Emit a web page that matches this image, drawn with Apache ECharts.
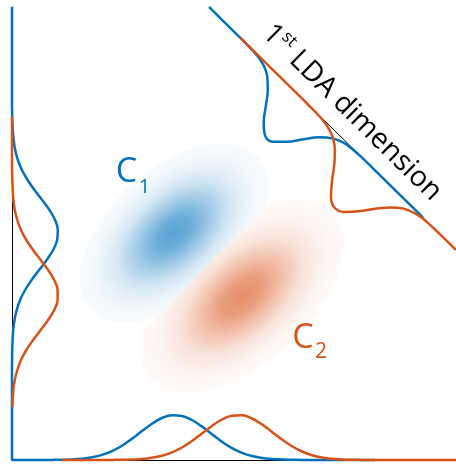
<!DOCTYPE html>
<html>
<head>
<meta charset="utf-8">
<script src="https://cdn.jsdelivr.net/npm/echarts@6/dist/echarts.min.js"></script>
<style>
  html, body { margin: 0; padding: 0; background: #fff; }
  #chart { width: 456px; height: 464px; }
</style>
</head>
<body>
<div id="chart"></div>
<script>
// Class colours
const BLUE = '#0072BD';
const ORANGE = '#D95319';

// Class means in the feature plane (x, y)
const blobX = [162, 230];
const blobY = [227, 164];

// Marginal density of each class along the horizontal feature
const bottomBlueX = [0, 10, 20, 30, 40, 50, 60, 70, 80, 90, 100, 110, 120, 130, 140, 150, 160, 170, 180, 190, 200, 210, 220, 230, 240, 250, 260, 270, 280, 290, 300, 310, 320, 330, 340, 350, 360, 363];
const bottomBlueH = [0, 0, 0, 0, 0.1, 0.25, 0.6, 1.3, 2.7, 5.1, 8.9, 14.3, 21.2, 28.9, 36.3, 42.0, 44.8, 44.1, 40.0, 33.4, 25.7, 18.3, 11.9, 7.2, 4.0, 2.0, 1.0, 0.4, 0.2, 0.1, 0, 0, 0, 0, 0, 0, 0, 0];
const bottomOrangeX = [50, 60, 70, 80, 90, 100, 110, 120, 130, 140, 150, 160, 170, 180, 190, 200, 210, 220, 230, 240, 250, 260, 270, 280, 290, 300, 310, 320, 330, 340, 350, 360, 370, 380, 390, 400, 410, 420, 430, 440, 444];
const bottomOrangeH = [0, 0, 0, 0, 0, 0.1, 0.2, 0.5, 1.0, 2.2, 4.3, 7.6, 12.5, 19.0, 26.5, 34.1, 40.5, 44.3, 44.7, 41.5, 35.6, 28.1, 20.4, 13.7, 8.5, 4.8, 2.5, 1.2, 0.5, 0.2, 0.1, 0, 0, 0, 0, 0, 0, 0, 0, 0, 0];

// Marginal density of each class along the vertical feature
const leftBlueY = [0, 10, 20, 30, 40, 50, 60, 70, 80, 90, 100, 110, 120, 130, 140, 150, 160, 170, 180, 190, 200, 210, 220, 230, 240, 250, 260, 270, 280, 290, 300, 310, 320, 330, 340, 350, 360, 370, 380, 390, 400, 410, 420, 430, 440, 450, 453];
const leftBlueH = [0, 0, 0, 0, 0, 0, 0, 0, 0, 0, 0.1, 0.2, 0.6, 1.2, 2.5, 4.7, 8.1, 13.1, 19.6, 27.1, 34.7, 41.1, 45.1, 45.8, 43.1, 37.5, 30.2, 22.5, 15.6, 9.9, 5.9, 3.2, 1.6, 0.8, 0.3, 0.1, 0, 0, 0, 0, 0, 0, 0, 0, 0, 0, 0];
const leftOrangeY = [53, 60, 70, 80, 90, 100, 110, 120, 130, 140, 150, 160, 170, 180, 190, 200, 210, 220, 230, 240, 250, 260, 270, 280, 290, 300, 310, 320, 330, 343];
const leftOrangeH = [0.4, 0.7, 1.4, 2.8, 5.3, 9.0, 14.3, 21.1, 28.7, 36.1, 42.2, 45.6, 45.6, 42.2, 36.1, 28.7, 21.1, 14.3, 9.0, 5.3, 2.8, 1.4, 0.7, 0.3, 0.1, 0, 0, 0, 0, 0];

// Density of each class projected on the 1st LDA dimension (position along the axis, height)
const ldaBlueS = [0, 10, 20, 30, 40, 50, 60, 70, 80, 90, 100, 110, 120, 130, 140, 150, 160, 170, 180, 190, 200, 210, 220, 230, 240, 250, 260, 270, 280, 290, 300];
const ldaBlueH = [0, 0, 0, 0, 0, 0, 0.3, 1.1, 3.4, 8.5, 17.8, 30.8, 44.0, 52.2, 51.2, 41.6, 28.0, 15.6, 7.2, 2.7, 0.9, 0.2, 0, 0, 0, 0, 0, 0, 0, 0, 0];
const ldaOrangeS = [44, 50, 60, 70, 80, 90, 100, 110, 120, 130, 140, 150, 160, 170, 180, 190, 200, 210, 220, 230, 240, 250, 260, 270, 280, 290, 300, 310, 320, 330, 340, 346];
const ldaOrangeH = [0, 0, 0, 0, 0, 0, 0, 0, 0, 0, 0.1, 0.2, 0.8, 2.5, 6.3, 13.6, 24.7, 38.1, 49.7, 55.0, 51.4, 40.7, 27.3, 15.5, 7.4, 3.0, 1.0, 0.3, 0.1, 0, 0, 0];

// Geometry of the LDA axis (data coordinates)
const ldaStart = [197, 453];
const ldaEnd = [444, 210];

// Shape of the class clouds (spread along major / minor axis, tilt)
const BLOB_SPREAD = [[44, 25], [48, 26]];
const BLOB_TILT = 42 * Math.PI / 180;
const BLOB_RGB = ['0,114,189', '217,83,25'];

function ldaFrame() {
  const dx = ldaEnd[0] - ldaStart[0], dy = ldaEnd[1] - ldaStart[1];
  const L = Math.hypot(dx, dy);
  return { ux: dx / L, uy: dy / L };
}

// Map (position, height) pairs on the LDA axis into the plane
function ldaPoints(sArr, hArr) {
  const f = ldaFrame();
  const nx = f.uy, ny = -f.ux; // normal pointing towards the class clouds
  return sArr.map((s, i) => [ldaStart[0] + s * f.ux + hArr[i] * nx,
                             ldaStart[1] + s * f.uy + hArr[i] * ny]);
}

function pairs(a, b) { return a.map((v, i) => [v, b[i]]); }

function blobFill(rgb) {
  const R = 2.6;
  const prof = [[0, 1], [0.5, 0.86], [1, 0.56], [1.5, 0.27], [2, 0.11], [2.3, 0.065], [2.55, 0.045], [2.6, 0]];
  return {
    type: 'radial', x: 0, y: 0, r: R, global: true,
    colorStops: prof.map(p => ({ offset: p[0] / R, color: 'rgba(' + rgb + ',' + (p[1] * 0.66).toFixed(3) + ')' }))
  };
}

// Each class cloud is drawn only on its own side of the decision boundary
function renderBlob(params, api) {
  const i = params.dataIndex;
  const c = api.coord([api.value(0), api.value(1)]);
  const cb = api.coord([blobX[0], blobY[0]]);
  const co = api.coord([blobX[1], blobY[1]]);
  const m = [(cb[0] + co[0]) / 2, (cb[1] + co[1]) / 2];
  const a0 = api.coord(ldaStart), a1 = api.coord(ldaEnd);
  let ux = a1[0] - a0[0], uy = a1[1] - a0[1];
  const L = Math.hypot(ux, uy); ux /= L; uy /= L;
  const wx = -uy, wy = ux;
  const sign = i === 0 ? -1 : 1;
  const F = 2000;
  const pts = [
    [m[0] + wx * F, m[1] + wy * F],
    [m[0] - wx * F, m[1] - wy * F],
    [m[0] - wx * F + sign * ux * F, m[1] - wy * F + sign * uy * F],
    [m[0] + wx * F + sign * ux * F, m[1] + wy * F + sign * uy * F]
  ];
  const sMaj = BLOB_SPREAD[i][0], sMin = BLOB_SPREAD[i][1];
  const cs = Math.cos(BLOB_TILT), sn = Math.sin(BLOB_TILT);
  const local = pts.map(p => {
    const X = p[0] - c[0], Y = p[1] - c[1];
    return [(X * cs - Y * sn) / sMaj, (X * sn + Y * cs) / sMin];
  });
  return {
    type: 'polygon',
    x: c[0], y: c[1], rotation: BLOB_TILT, scaleX: sMaj, scaleY: sMin,
    shape: { points: local },
    style: { fill: blobFill(BLOB_RGB[i]), stroke: null }
  };
}

function curve(data, color, z) {
  return {
    type: 'line', data: data, z: z, clip: false, silent: true,
    symbol: 'none', showSymbol: false, smooth: 0.4,
    lineStyle: { color: color, width: 2.5 }, itemStyle: { color: color }
  };
}

const FONT = '"Open Sans", "Noto Sans", sans-serif';

function label(id, text, x, y, size, color) {
  return { id: id, type: 'text', z: 10, x: x, y: y,
    style: { text: text, font: size + 'px ' + FONT, fill: color,
             textAlign: 'center', textVerticalAlign: 'middle', align: 'center', verticalAlign: 'middle' } };
}

const chart = echarts.init(document.getElementById('chart'), null, { renderer: 'canvas' });
chart.setOption({
  animation: false,
  backgroundColor: '#fff',
  grid: { left: 12, right: 0, top: 7, bottom: 4, containLabel: false },
  xAxis: {
    type: 'value', min: 0, max: 444,
    axisLine: { show: true, onZero: false, lineStyle: { color: '#000', width: 1 } },
    axisTick: { show: false }, axisLabel: { show: false }, splitLine: { show: false }
  },
  yAxis: {
    type: 'value', min: 0, max: 453,
    axisLine: { show: true, onZero: false, lineStyle: { color: '#000', width: 1 } },
    axisTick: { show: false }, axisLabel: { show: false }, splitLine: { show: false }
  },
  series: [
    { type: 'custom', z: 1, silent: true, data: pairs(blobX, blobY), renderItem: renderBlob },
    { type: 'line', z: 2, clip: false, silent: true, symbol: 'none', data: [ldaStart, ldaEnd],
      lineStyle: { color: '#000', width: 1 } },
    curve(pairs(bottomBlueX, bottomBlueH), BLUE, 3),
    curve(pairs(leftBlueH, leftBlueY), BLUE, 3),
    curve(ldaPoints(ldaBlueS, ldaBlueH), BLUE, 3),
    curve(pairs(bottomOrangeX, bottomOrangeH), ORANGE, 4),
    curve(pairs(leftOrangeH, leftOrangeY), ORANGE, 4),
    curve(ldaPoints(ldaOrangeS, ldaOrangeH), ORANGE, 4)
  ],
  graphic: [
    label('c1', 'C', 126.5, 172, 34, BLUE),
    label('c1sub', '1', 144.5, 187, 20, BLUE),
    label('c2', 'C', 303, 338, 34, ORANGE),
    label('c2sub', '2', 321, 352, 21, ORANGE)
  ]
});

// Axis title placed along the LDA axis, offset to the outer side
(function () {
  const f = ldaFrame();
  const textS = 176, textOff = 25;
  const p = chart.convertToPixel({ gridIndex: 0 }, [
    ldaStart[0] + textS * f.ux - textOff * f.uy,
    ldaStart[1] + textS * f.uy + textOff * f.ux
  ]);
  const a0 = chart.convertToPixel({ gridIndex: 0 }, ldaStart);
  const a1 = chart.convertToPixel({ gridIndex: 0 }, ldaEnd);
  const ang = Math.atan2(a1[1] - a0[1], a1[0] - a0[0]);
  chart.setOption({
    graphic: [{
      id: 'ldaTitle', type: 'text', z: 10, x: p[0], y: p[1], rotation: -ang,
      style: {
        text: '{a|1}{b|st}{a| LDA dimension}',
        textAlign: 'center', textVerticalAlign: 'middle', align: 'center', verticalAlign: 'middle',
        rich: {
          a: { fontSize: 28.5, fontFamily: FONT, fill: '#000', lineHeight: 34 },
          b: { fontSize: 17, fontFamily: FONT, fill: '#000', verticalAlign: 'top', lineHeight: 34 }
        }
      }
    }]
  });
})();
</script>
</body>
</html>
